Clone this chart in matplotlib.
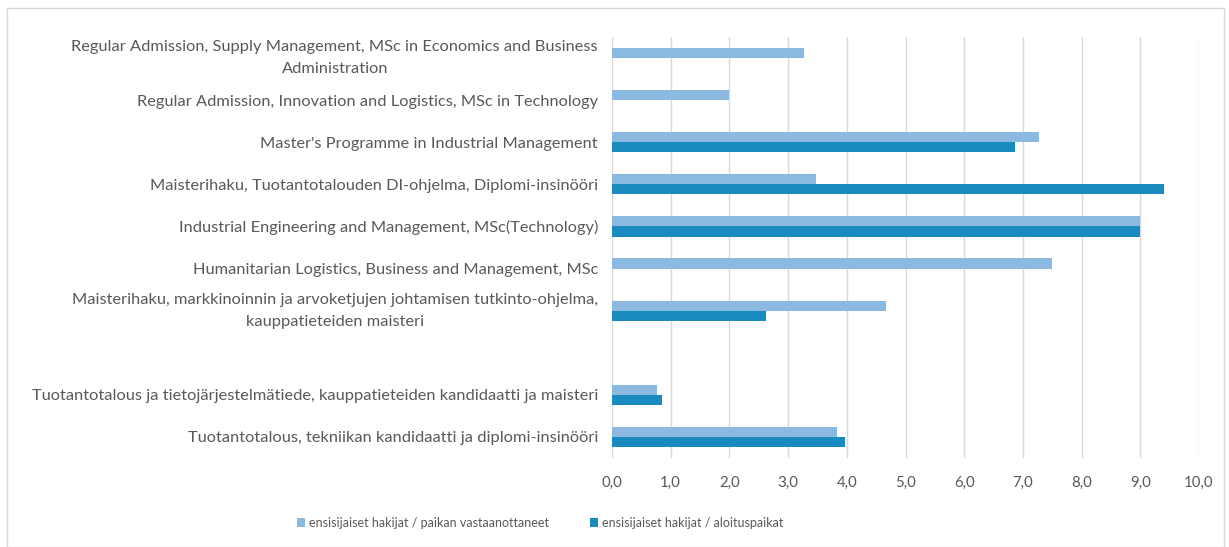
import matplotlib.pyplot as plt
import numpy as np

categories = [
    "Regular Admission, Supply Management, MSc in Economics and Business\nAdministration",
    "Regular Admission, Innovation and Logistics, MSc in Technology",
    "Master's Programme in Industrial Management",
    "Maisterihaku, Tuotantotalouden DI-ohjelma, Diplomi-insinööri",
    "Industrial Engineering and Management, MSc(Technology)",
    "Humanitarian Logistics, Business and Management, MSc",
    "Maisterihaku, markkinoinnin ja arvoketjujen johtamisen tutkinto-ohjelma,\nkauppatieteiden maisteri",
    "",
    "Tuotantotalous ja tietojärjestelmätiede, kauppatieteiden kandidaatti ja maisteri",
    "Tuotantotalous, tekniikan kandidaatti ja diplomi-insinööri",
]
vastaanottaneet = [3.27, 2.0, 7.27, 3.47, 9.0, 7.5, 4.66, 0, 0.77, 3.84]
aloituspaikat = [0, 0, 6.86, 9.40, 9.0, 0, 2.62, 0, 0.86, 3.97]
xticks = np.arange(0, 10.5, 1.0)

plt.rcParams['font.family'] = ['Lato', 'DejaVu Sans']
text_color = '#595959'
light = '#8BB9E0'
dark = '#1A8BC0'

fig = plt.figure(figsize=(12.29, 5.47), dpi=100)
ax = fig.add_axes([612 / 1229, 1 - 458 / 547, (1199 - 612) / 1229, (458 - 37) / 547])

y = np.arange(len(categories))
h = 0.24
ax.barh(y - h / 2, vastaanottaneet, height=h, color=light, linewidth=0,
        label='ensisijaiset hakijat / paikan vastaanottaneet', zorder=3)
ax.barh(y + h / 2, aloituspaikat, height=h, color=dark, linewidth=0,
        label='ensisijaiset hakijat / aloituspaikat', zorder=3)

ax.set_ylim(len(categories) - 0.5, -0.5)
ax.set_xlim(0, 10)
ax.set_xticks(xticks)
ax.set_xticklabels([f"{v:.1f}".replace('.', ',') for v in xticks], fontsize=10.8, color=text_color)
ax.set_yticks(y)
ax.set_yticklabels(categories, fontsize=11.8, color=text_color, multialignment='center',
                   linespacing=1.75)
# two-line labels centred on their category
for lab in ax.get_yticklabels():
    if '\n' in lab.get_text():
        lab.set_va('center')
ax.tick_params(axis='both', length=0)
ax.tick_params(axis='x', pad=13)
ax.tick_params(axis='y', pad=10)
ax.grid(axis='x', color='#D9D9D9', linewidth=1, zorder=0)
for s in ax.spines.values():
    s.set_visible(False)

ax.legend(loc='center', bbox_to_anchor=(540 / 1229, 1 - 523 / 547), bbox_transform=fig.transFigure,
          ncol=2, frameon=False, fontsize=9.0, handlelength=0.65, handleheight=0.65,
          handletextpad=0.3, columnspacing=3.3, labelcolor=text_color)

fig.patches.append(plt.Rectangle((0.006, 0.0), 0.99, 0.985, transform=fig.transFigure,
                                 fill=False, edgecolor='#D9D9D9', linewidth=1))

fig.savefig('out.png', dpi=100)
